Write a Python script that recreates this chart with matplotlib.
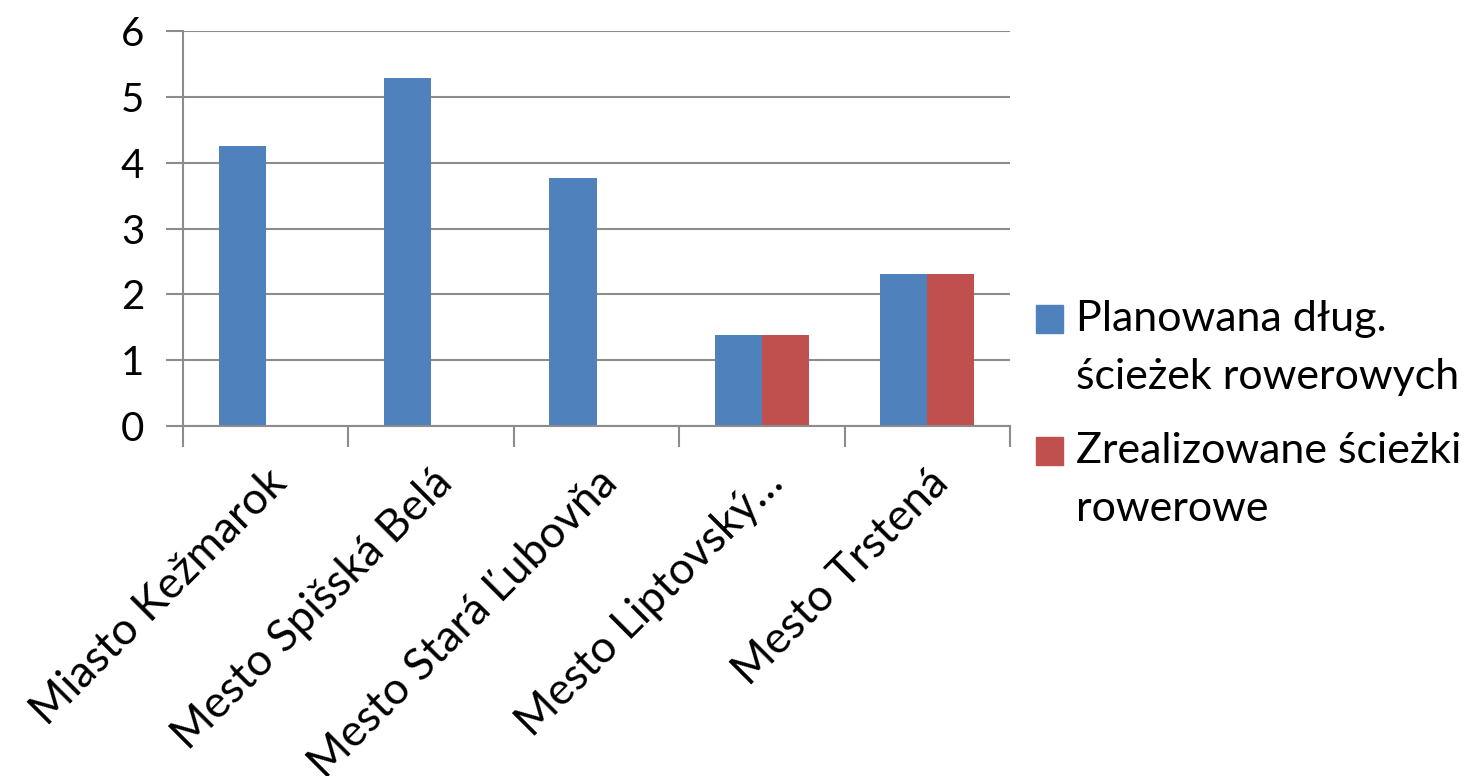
import matplotlib.pyplot as plt
from matplotlib.patches import Rectangle
import numpy as np

# dane
miasta = ["Miasto Kežmarok", "Mesto Spišská Belá", "Mesto Stará Ľubovňa",
          "Mesto Liptovský…", "Mesto Trstená"]
planowana = [4.25, 5.29, 3.77, 1.38, 2.31]
zrealizowane = [0, 0, 0, 1.38, 2.31]
etykiety = [["Planowana dług.", "ścieżek rowerowych"], ["Zrealizowane ścieżki", "rowerowe"]]
kolory = ["#4F81BD", "#C0504D"]

plt.rcParams['font.family'] = ['Lato', 'DejaVu Sans']
szary = "#8c8c8c"

fig = plt.figure(figsize=(14.74, 7.76), dpi=100)
ax = fig.add_axes([0.1242, 0.451, 0.561, 0.509])

x = np.arange(len(miasta))
w = 0.285
ax.bar(x - w / 2, planowana, w, color=kolory[0])
ax.bar(x + w / 2, zrealizowane, w, color=kolory[1])

ax.set_xlim(-0.5, len(miasta) - 0.5)
ax.set_ylim(0, 6)
ax.set_yticks(range(7))
ax.yaxis.grid(True, color=szary, linewidth=1.5)
ax.set_axisbelow(True)
for s in ["top", "right"]:
    ax.spines[s].set_visible(False)
for s in ["left", "bottom"]:
    ax.spines[s].set_color(szary)
    ax.spines[s].set_linewidth(1.5)

ax.tick_params(axis="y", length=12, width=1.5, color=szary, labelsize=29, pad=16)
ax.set_xticks(np.arange(len(miasta) + 1) - 0.5)
ax.set_xticklabels([])
ax.tick_params(axis="x", length=15, width=1.5, color=szary)
ax.set_xticks(x, minor=True)
ax.set_xticklabels(miasta, minor=True, rotation=45, ha="right",
                   rotation_mode="anchor", fontsize=32)
ax.tick_params(axis="x", which="minor", length=0, pad=26)

# legenda (kwadrat przy pierwszej linii, jak w oryginale)
for i, (lab, kol) in enumerate(zip(etykiety, kolory)):
    y0 = 1 - (319 + i * 132) / 776
    fig.add_artist(Rectangle((1036 / 1474, y0 - 14 / 776), 27 / 1474, 28 / 776,
                             color=kol, transform=fig.transFigure))
    for j, linia in enumerate(lab):
        fig.text(1076 / 1474, y0 - j * 58 / 776, linia, fontsize=31, va="center")

fig.savefig("out.png")
